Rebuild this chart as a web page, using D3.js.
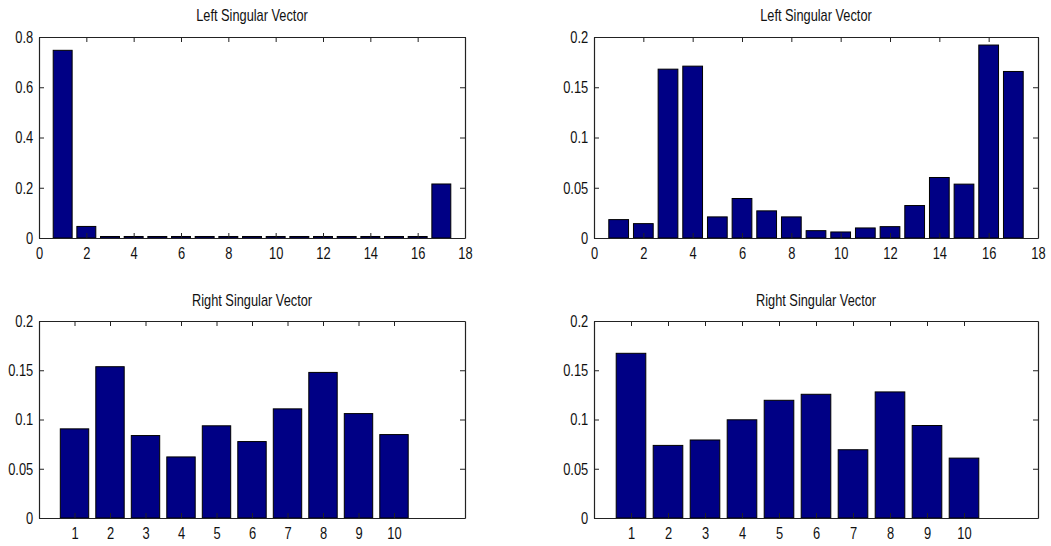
<!DOCTYPE html>
<html>
<head>
<meta charset="utf-8">
<script src="https://cdn.jsdelivr.net/npm/d3@7"></script>
<style>
  html, body { margin: 0; padding: 0; background: #fff; }
  svg { display: block; }
  text { font-family: "Liberation Sans", Arial, Helvetica, sans-serif; fill: #111; }
</style>
</head>
<body>
<svg id="chart" width="1051" height="546"></svg>
<script>
// Singular vector components, indexed from 1
const leftIndex = [1, 2, 3, 4, 5, 6, 7, 8, 9, 10, 11, 12, 13, 14, 15, 16, 17];
const rightIndex = [1, 2, 3, 4, 5, 6, 7, 8, 9, 10];

const leftVectorA = [0.747, 0.046, 0.006, 0.006, 0.006, 0.006, 0.006, 0.006, 0.006,
                     0.006, 0.006, 0.006, 0.006, 0.006, 0.006, 0.006, 0.215];
const leftVectorB = [0.0183, 0.0143, 0.168, 0.171, 0.021, 0.0393, 0.027, 0.021, 0.0073,
                     0.006, 0.010, 0.0113, 0.0323, 0.0602, 0.0536, 0.192, 0.1657];
const rightVectorA = [0.0905, 0.1536, 0.0837, 0.062, 0.0936, 0.0776, 0.1108, 0.1478, 0.106, 0.0847];
const rightVectorB = [0.1672, 0.0737, 0.0792, 0.0997, 0.1195, 0.1256, 0.0693, 0.128, 0.0939, 0.0608];

// Tick labels
const leftXTicks = [0, 2, 4, 6, 8, 10, 12, 14, 16, 18];
const rightXTicks = [1, 2, 3, 4, 5, 6, 7, 8, 9, 10];
const yTicksWide = [0, 0.2, 0.4, 0.6, 0.8];
const yTicksNarrow = [0, 0.05, 0.1, 0.15, 0.2];

const titles = ["Left Singular Vector", "Right Singular Vector"];

const svg = d3.select("#chart");
svg.append("rect").attr("width", 1051).attr("height", 546).attr("fill", "#fff");

const SX = 0.76;         // horizontal squeeze of tick lettering
const FS = 17;           // tick lettering size
const TITLE_FS = 16;
const TITLE_SX = 0.8;
const BAR_W = 0.8;       // bar width in x units
const BAR_FILL = "#000085";

const panels = [
  { box: [39, 37, 465, 238], title: titles[0], titleY: 21, idx: leftIndex, vals: leftVectorA,
    xDom: [0, 18], xTicks: leftXTicks, yDom: [0, 0.8], yTicks: yTicksWide },
  { box: [594, 37, 1038, 238], title: titles[0], titleY: 21, idx: leftIndex, vals: leftVectorB,
    xDom: [0, 18], xTicks: leftXTicks, yDom: [0, 0.2], yTicks: yTicksNarrow },
  { box: [39, 321, 465, 518], title: titles[1], titleY: 306, idx: rightIndex, vals: rightVectorA,
    xDom: [0, 12], xTicks: rightXTicks, yDom: [0, 0.2], yTicks: yTicksNarrow },
  { box: [594, 321, 1038, 518], title: titles[1], titleY: 306, idx: rightIndex, vals: rightVectorB,
    xDom: [0, 12], xTicks: rightXTicks, yDom: [0, 0.2], yTicks: yTicksNarrow }
];

const fmt = d => (d === 0 ? "0" : String(d));

panels.forEach(p => {
  const [x0, y0, x1, y1] = p.box;
  const x = d3.scaleLinear().domain(p.xDom).range([x0, x1]);
  const y = d3.scaleLinear().domain(p.yDom).range([y1, y0]);
  const g = svg.append("g");

  // bars
  g.selectAll("rect.bar")
    .data(p.vals)
    .join("rect")
    .attr("class", "bar")
    .attr("x", (d, i) => x(p.idx[i] - BAR_W / 2))
    .attr("width", (d, i) => x(p.idx[i] + BAR_W / 2) - x(p.idx[i] - BAR_W / 2))
    .attr("y", d => y(d))
    .attr("height", d => y(0) - y(d))
    .attr("fill", BAR_FILL)
    .attr("stroke", "#000")
    .attr("stroke-width", 1);

  // boxed axes with inward ticks on all four sides
  const bottom = g.append("g").attr("transform", `translate(0,${y1})`)
    .call(d3.axisBottom(x).tickValues(p.xTicks).tickFormat(fmt)
      .tickSizeInner(-5).tickSizeOuter(0).tickPadding(9));
  const top = g.append("g").attr("transform", `translate(0,${y0})`)
    .call(d3.axisTop(x).tickValues(p.xTicks).tickFormat("")
      .tickSizeInner(-5).tickSizeOuter(0));
  const left = g.append("g").attr("transform", `translate(${x0},0)`)
    .call(d3.axisLeft(y).tickValues(p.yTicks).tickFormat(fmt)
      .tickSizeInner(-5).tickSizeOuter(0).tickPadding(7.5));
  const right = g.append("g").attr("transform", `translate(${x1},0)`)
    .call(d3.axisRight(y).tickValues(p.yTicks).tickFormat("")
      .tickSizeInner(-5).tickSizeOuter(0));

  [bottom, top, left, right].forEach(a => {
    a.select(".domain").attr("stroke", "#222").attr("stroke-width", 1.2);
    a.selectAll(".tick line").attr("stroke", "#222").attr("stroke-width", 1);
    a.selectAll("text")
      .attr("font-size", FS)
      .attr("font-family", null)
      .attr("fill", "#111")
      .attr("transform", `scale(${SX},1)`);
  });
  bottom.selectAll("text").attr("dy", "0.72em");

  // title
  g.append("text")
    .attr("transform", `translate(${(x0 + x1) / 2},${p.titleY}) scale(${TITLE_SX},1)`)
    .attr("text-anchor", "middle")
    .attr("font-size", TITLE_FS)
    .text(p.title);
});
</script>
</body>
</html>
